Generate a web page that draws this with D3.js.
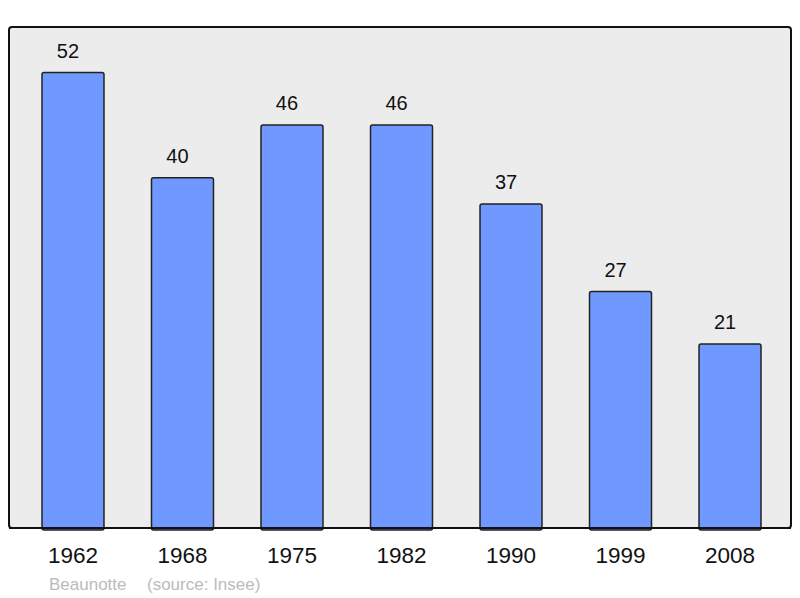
<!DOCTYPE html>
<html>
<head>
<meta charset="utf-8">
<script src="https://cdn.jsdelivr.net/npm/d3@7"></script>
<style>
  body { margin: 0; background: #fff; }
  text { font-family: "Liberation Sans", Arial, sans-serif; }
</style>
</head>
<body>
<div class="canvas"></div>
<script>
// Data
var years = ['1962', '1968', '1975', '1982', '1990', '1999', '2008'];
var population = [52, 40, 46, 46, 37, 27, 21];
var placeName = 'Beaunotte';
var sourceNote = '(source: Insee)';

// Config
var width = 800,
    height = 598,
    frame = {left: 9, top: 27, right: 791, bottom: 528},
    barColor = '#7099ff',
    plotColor = '#ececec';

var svg = d3.select('.canvas').append('svg')
            .attr('width', width)
            .attr('height', height);

var x = d3.scaleBand()
          .domain(years)
          .range([42, 761])
          .paddingInner(0.434)
          .paddingOuter(0);

var y = d3.scaleLinear()
          .domain([0, d3.max(population) * 1.1])
          .range([frame.bottom, frame.top]);

// plot frame
svg.append('rect')
   .attr('x', frame.left)
   .attr('y', frame.top)
   .attr('width', frame.right - frame.left)
   .attr('height', frame.bottom - frame.top)
   .attr('rx', 3)
   .style('fill', plotColor)
   .style('stroke', '#111')
   .style('stroke-width', 2);

var data = years.map(function (d, i) { return {year: d, value: population[i]}; });

svg.selectAll('rect.bar')
   .data(data)
   .enter()
   .append('rect')
   .attr('class', 'bar')
   .attr('x', function (d) { return x(d.year); })
   .attr('y', function (d) { return y(d.value); })
   .attr('width', x.bandwidth())
   .attr('height', function (d) { return y(0) - y(d.value) + 2; })
   .attr('rx', 2)
   .style('fill', barColor)
   .style('stroke', '#222')
   .style('stroke-width', 1.5);

// value labels (sit a little left of the bar centre, like the original)
svg.selectAll('text.value')
   .data(data)
   .enter()
   .append('text')
   .attr('class', 'value')
   .attr('x', function (d) { return x(d.year) + x.bandwidth() / 2 - 5; })
   .attr('y', function (d) { return y(d.value) - 15; })
   .attr('text-anchor', 'middle')
   .style('font-size', '20px')
   .style('fill', '#111')
   .text(function (d) { return d.value; });

// redraw frame bottom line over the bars
svg.append('line')
   .attr('x1', frame.left)
   .attr('x2', frame.right)
   .attr('y1', frame.bottom)
   .attr('y2', frame.bottom)
   .style('stroke', '#111')
   .style('stroke-width', 2);

// year axis
var axis = svg.append('g')
              .attr('transform', 'translate(0,' + frame.bottom + ')')
              .call(d3.axisBottom(x).tickSize(0).tickPadding(19));
axis.select('.domain').remove();
axis.selectAll('text')
    .style('font-size', '22.5px')
    .style('font-family', '"Liberation Sans", Arial, sans-serif')
    .style('fill', '#111');

// footer
svg.append('text')
   .attr('x', 49)
   .attr('y', 590)
   .style('font-size', '17px')
   .style('fill', '#bbb')
   .text(placeName);
svg.append('text')
   .attr('x', 147)
   .attr('y', 590)
   .style('font-size', '17px')
   .style('fill', '#bbb')
   .text(sourceNote);
</script>
</body>
</html>
